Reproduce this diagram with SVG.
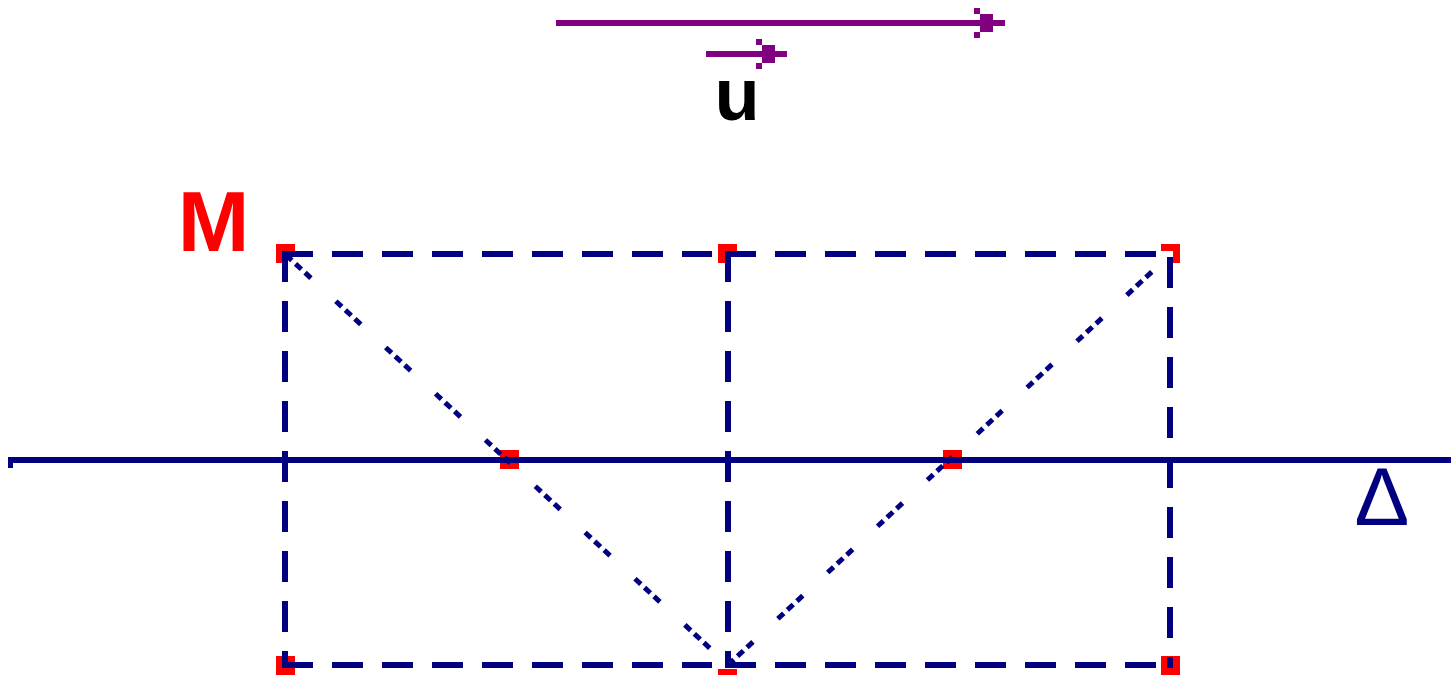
<svg xmlns="http://www.w3.org/2000/svg" width="1451" height="678" viewBox="0 0 1451 678">
<style>
.dash{stroke:#000080;stroke-width:6;stroke-dasharray:31 19;fill:none}
.diag{stroke:#000080;stroke-width:5;stroke-dasharray:8 5 8 5 8 34;fill:none}
.axis{stroke:#000080;stroke-width:6;fill:none}
.vec{stroke:#800080;stroke-width:6;fill:none}
.pt{fill:#ff0000}
.lbl{font-family:"Liberation Sans",Arial,sans-serif;font-weight:bold}
</style>
<defs>
<symbol id="ah" overflow="visible">
<rect x="0" y="0" width="6" height="6" fill="#800080"/>
<rect x="6" y="6" width="13" height="18" fill="#800080"/>
<rect x="0" y="24" width="6" height="6" fill="#800080"/>
</symbol>
</defs>
<rect width="1451" height="678" fill="#ffffff"/>
<g id="points">
<g id="pTL"><rect class="pt" x="276" y="244" width="19" height="7"/><rect class="pt" x="276" y="244" width="6" height="19"/></g>
<g id="pTM"><rect class="pt" x="718" y="244" width="19" height="7"/><rect class="pt" x="718" y="244" width="7" height="19"/></g>
<g id="pTR"><rect class="pt" x="1161" y="244" width="19" height="7"/><rect class="pt" x="1173" y="244" width="7" height="19"/></g>
<g id="pI1"><rect class="pt" x="500" y="450" width="19" height="19"/></g>
<g id="pI2"><rect class="pt" x="943" y="450" width="19" height="19"/></g>
<g id="pBL"><rect class="pt" x="276" y="656" width="19" height="19"/></g>
<g id="pBM"><rect class="pt" x="718" y="669" width="19" height="6"/></g>
<g id="pBR"><rect class="pt" x="1161" y="656" width="19" height="19"/></g>
</g>
<g id="connectors">
<line class="axis" x1="8" y1="460" x2="1451" y2="460"/>
<rect x="8" y="460" width="5" height="8" fill="#000080"/>
<line class="dash" x1="282" y1="254" x2="712" y2="254"/>
<line class="dash" x1="725" y1="254" x2="1173" y2="254"/>
<line class="dash" x1="282" y1="665" x2="712" y2="665"/>
<line class="dash" x1="725" y1="665" x2="1173" y2="665"/>
<line class="dash" x1="285" y1="251" x2="285" y2="668"/>
<line class="dash" x1="728" y1="251" x2="728" y2="668"/>
<line class="dash" x1="1170" y1="257" x2="1170" y2="668"/>
<line class="diag" x1="286" y1="255" x2="728" y2="665"/>
<line class="diag" x1="728" y1="665" x2="1170" y2="255"/>
<g id="vecLong"><line class="vec" x1="556" y1="23" x2="1005" y2="23"/><use href="#ah" x="974" y="8"/></g>
<g id="vecU"><line class="vec" x1="706" y1="54" x2="787" y2="54"/><use href="#ah" x="756" y="39"/></g>
</g>
<g id="labelU"><text class="lbl" x="737" y="120" font-size="74" text-anchor="middle" fill="#000000">u</text></g>
<g id="labelM"><text class="lbl" x="213.5" y="251" font-size="86" text-anchor="middle" fill="#ff0000">M</text></g>
<g id="labelDelta"><text x="1382" y="525" font-size="82" text-anchor="middle" fill="#000080" font-family="Liberation Sans, Arial, sans-serif">Δ</text></g>
</svg>
